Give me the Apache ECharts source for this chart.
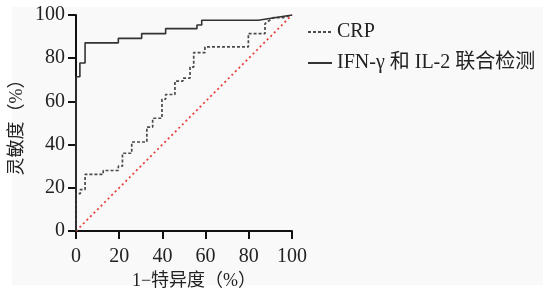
<!DOCTYPE html>
<html>
<head>
<meta charset="utf-8">
<script src="https://cdn.jsdelivr.net/npm/echarts@6/dist/echarts.min.js"></script>
<style>
  html, body { margin: 0; padding: 0; background: #fff; }
  #chart { width: 543px; height: 295px; }
</style>
</head>
<body>
<div id="chart"></div>
<script>
// ROC vertices (x = 1-specificity %, y = sensitivity %)
var crpX = [0, 0, 2, 2, 4.2, 4.2, 12.6, 12.6, 19.6, 19.6, 21.5, 21.5, 25.8, 25.8, 32.8, 32.8, 35.5, 35.5, 39.8, 39.8, 41.5, 41.5, 45.8, 45.8, 49.5, 49.5, 52.8, 52.8, 54.5, 54.5, 59.7, 59.7, 79.8, 79.8, 87.5, 87.5, 91.4, 96, 100];
var crpY = [0, 17.3, 17.3, 19.2, 19.2, 26.2, 26.2, 28, 28, 30, 30, 36, 36, 41.2, 41.2, 48.1, 48.1, 52.2, 52.2, 61, 61, 63.2, 63.2, 69.4, 69.4, 70.8, 70.8, 75.9, 75.9, 82.6, 82.6, 85.2, 85.2, 91.4, 91.4, 96, 98.8, 98.8, 100];
var combX = [0, 0, 1.8, 1.8, 4.2, 4.2, 19.6, 19.6, 30.4, 30.4, 41.5, 41.5, 56, 56, 58.2, 58.2, 84.4, 100];
var combY = [0, 71.4, 71.4, 77.8, 77.8, 87.1, 87.1, 89.2, 89.2, 91.4, 91.4, 93.7, 93.7, 95.4, 95.4, 97.6, 97.6, 100];
var refX = [0, 100];
var refY = [0, 100];
var seriesNames = ['CRP', 'IFN-γ 和 IL-2 联合检测'];

function pairs(xs, ys) {
  var out = [];
  for (var i = 0; i < xs.length; i++) out.push([xs[i], ys[i]]);
  return out;
}

var font = "'Liberation Serif', 'Noto Sans CJK SC', serif";
var chart = echarts.init(document.getElementById('chart'));
chart.setOption({
  backgroundColor: '#ffffff',
  animation: false,
  graphic: [{
    type: 'rect', z: -10, silent: true,
    shape: { x: 12, y: 7, width: 531, height: 278 },
    style: { fill: '#f9f9f9' }
  }],
  grid: { left: 76, right: 251, top: 15, bottom: 64 },
  legend: {
    orient: 'vertical',
    left: 302,
    top: 17,
    itemWidth: 24,
    itemHeight: 20,
    itemGap: 11,
    data: seriesNames,
    // hide the symbol drawn on top of the line icon
    itemStyle: { color: 'rgba(0,0,0,0)', borderColor: 'rgba(0,0,0,0)', borderWidth: 0 },
    textStyle: { fontFamily: font, fontSize: 20, color: '#222', lineHeight: 20 }
  },
  xAxis: {
    type: 'value', min: 0, max: 100, interval: 20,
    name: '1−特异度（%）',
    nameLocation: 'middle',
    nameGap: 38,
    nameTextStyle: { fontFamily: font, fontSize: 18, color: '#222', padding: [0, 0, 0, 20] },
    axisLine: { lineStyle: { color: '#111', width: 2 } },
    axisTick: { length: 8, lineStyle: { color: '#111', width: 2 } },
    axisLabel: { fontFamily: font, fontSize: 20, color: '#222', margin: 16 },
    splitLine: { show: false }
  },
  yAxis: {
    type: 'value', min: 0, max: 100, interval: 20,
    name: '灵敏度（%）',
    nameLocation: 'middle',
    nameGap: 50,
    nameTextStyle: { fontFamily: font, fontSize: 18, color: '#222' },
    axisLine: { lineStyle: { color: '#111', width: 2 } },
    axisTick: { length: 8, lineStyle: { color: '#111', width: 2 } },
    axisLabel: { fontFamily: font, fontSize: 20, color: '#222', margin: 11 },
    splitLine: { show: false }
  },
  series: [
    {
      name: 'ref', type: 'line', symbol: 'none', z: 1,
      data: pairs(refX, refY),
      lineStyle: { color: '#e8413a', width: 1.8, type: [2, 3] }
    },
    {
      name: seriesNames[0], type: 'line', symbol: 'none', z: 2,
      data: pairs(crpX, crpY),
      lineStyle: { color: '#4a4a4a', width: 1.7, type: [3, 2] },
      itemStyle: { color: '#4a4a4a' }
    },
    {
      name: seriesNames[1], type: 'line', symbol: 'none', z: 3,
      data: pairs(combX, combY),
      lineStyle: { color: '#333', width: 1.6 },
      itemStyle: { color: '#333' }
    }
  ]
});
</script>
</body>
</html>
